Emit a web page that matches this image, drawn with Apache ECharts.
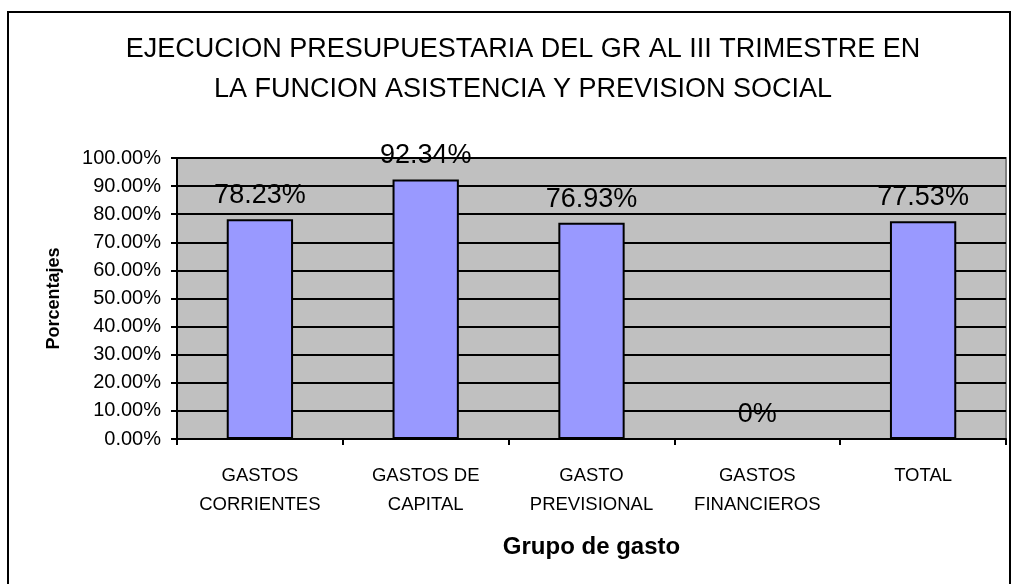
<!DOCTYPE html>
<html>
<head>
<meta charset="utf-8">
<script src="https://cdn.jsdelivr.net/npm/echarts@6/dist/echarts.min.js"></script>
<style>
  html, body { margin: 0; padding: 0; background: #fff; }
  #chart { width: 1012px; height: 584px; }
</style>
</head>
<body>
<div id="chart"></div>
<script>
// categorias y valores (%)
var categorias = ["GASTOS\nCORRIENTES", "GASTOS DE\nCAPITAL", "GASTO\nPREVISIONAL", "GASTOS\nFINANCIEROS", "TOTAL"];
var porcentajes = [78.23, 92.34, 76.93, 0, 77.53];
var titulo = ["EJECUCION PRESUPUESTARIA DEL GR AL III TRIMESTRE EN", "LA FUNCION ASISTENCIA Y PREVISION SOCIAL"];

var font = "'Liberation Sans', Arial, sans-serif";
var mychart = echarts.init(document.getElementById("chart"));

var option = {
  animation: false,
  backgroundColor: "#fff",
  title: {
    text: titulo.join("\n"),
    left: 518,
    top: 25,
    textAlign: "center",
    textStyle: {
      fontFamily: font,
      fontWeight: "normal",
      fontSize: 27,
      lineHeight: 40,
      color: "#000"
    }
  },
  graphic: [
    {
      type: "rect",
      shape: { x: 8, y: 12, width: 1002, height: 620 },
      style: { fill: null, stroke: "#000", lineWidth: 2 },
      z: 100
    }
  ],
  grid: {
    left: 177,
    right: 6,
    top: 158,
    bottom: 145,
    show: true,
    backgroundColor: "#c0c0c0",
    borderColor: "#808080",
    borderWidth: 2
  },
  xAxis: {
    type: "category",
    data: categorias,
    name: "Grupo de gasto",
    nameLocation: "middle",
    nameGap: 96,
    nameTextStyle: { fontFamily: font, fontWeight: "bold", fontSize: 24, color: "#000" },
    axisLine: { lineStyle: { color: "#000", width: 2 } },
    axisTick: { show: true, length: 6, lineStyle: { color: "#000", width: 2 } },
    axisLabel: {
      fontFamily: font,
      fontSize: 18.5,
      lineHeight: 29,
      color: "#000",
      margin: 22,
      interval: 0
    }
  },
  yAxis: {
    type: "value",
    min: 0,
    max: 100,
    interval: 10,
    name: "Porcentajes",
    nameLocation: "middle",
    nameGap: 114,
    nameTextStyle: { fontFamily: font, fontWeight: "bold", fontSize: 18, color: "#000" },
    axisLine: { show: true, lineStyle: { color: "#000", width: 2 } },
    axisTick: { show: true, length: 6, lineStyle: { color: "#000", width: 2 } },
    splitLine: { lineStyle: { color: "#000", width: 2 } },
    axisLabel: {
      fontFamily: font,
      fontSize: 20,
      color: "#000",
      margin: 16,
      formatter: function (v) { return v.toFixed(2) + "%"; }
    }
  },
  series: [
    {
      type: "bar",
      data: porcentajes,
      barWidth: "40%",
      itemStyle: { color: "#9999ff", borderColor: "#000", borderWidth: 2 },
      label: {
        show: true,
        position: "top",
        distance: 10,
        fontFamily: font,
        fontSize: 27,
        color: "#000",
        formatter: function (p) { return p.value === 0 ? "0%" : p.value.toFixed(2) + "%"; }
      }
    }
  ]
};
mychart.setOption(option);
</script>
</body>
</html>
